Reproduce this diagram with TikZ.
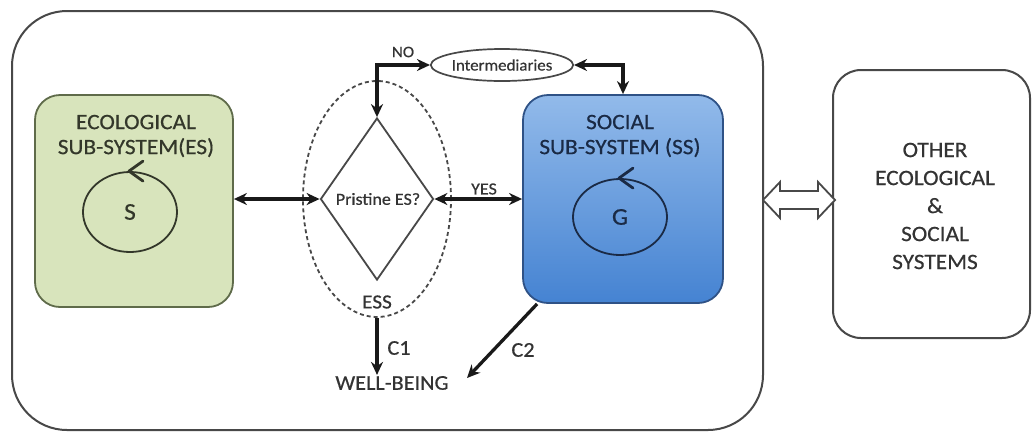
\documentclass[tikz,border=0pt]{standalone}
\usepackage{fontspec}
\setmainfont{Carlito}[FakeStretch=1.06,FakeBold=0.5]
\usetikzlibrary{shapes.geometric,arrows.meta,calc}
\definecolor{esgreen}{HTML}{D8E4BC}
\definecolor{esborder}{HTML}{5F6B4A}
\definecolor{sstop}{HTML}{92BAEA}
\definecolor{ssbot}{HTML}{4583D2}
\definecolor{ssborder}{HTML}{2F5286}
\definecolor{linegray}{HTML}{484848}
\definecolor{txtgray}{HTML}{333333}
\definecolor{estxt}{HTML}{33372A}
\definecolor{sstxt}{HTML}{1A2A45}
\tikzset{
  outerbox/.style={draw=linegray, line width=2pt, rounded corners=55pt, minimum width=751pt, minimum height=419pt, inner sep=0pt},
  esbox/.style={draw=esborder, fill=esgreen, line width=1.8pt, rounded corners=25pt, minimum width=198pt, minimum height=212pt, inner sep=0pt},
  ssbox/.style={draw=ssborder, top color=sstop, bottom color=ssbot, line width=1.8pt, rounded corners=25pt, minimum width=200pt, minimum height=208pt, inner sep=0pt},
  otherbox/.style={draw=linegray, line width=2pt, rounded corners=28pt, minimum width=197pt, minimum height=268pt, inner sep=0pt},
  loopcirc/.style={ellipse, draw, line width=1.8pt, minimum width=94pt, inner sep=0pt},
  loophead/.style={line width=2.8pt, line cap=round, line join=round},
  biarrow/.style={line width=3.3pt, draw=black!90, {Stealth[length=13pt,width=12pt]}-{Stealth[length=13pt,width=12pt]}},
  onearrow/.style={line width=3.3pt, draw=black!90, -{Stealth[length=13pt,width=12pt]}},
  big/.style={font=\fontsize{22}{25}\selectfont, align=center, inner sep=0pt},
  lbl/.style={inner sep=1pt, text=txtgray},
  hollow/.style={draw=linegray, fill=white, line width=1.8pt, line join=miter}
}
\begin{document}
\begin{tikzpicture}[x=1pt,y=-1pt]
\useasboundingbox (0,0) rectangle (1032,432);
\fill[white] (0,0) rectangle (1032,432);

% outer container
\node[outerbox] (outer) at (387.5,220.5) {};

% ecological sub-system
\node[esbox] (es) at (134,201) {};
\node[big, text=estxt] (estext) at (136,136) {ECOLOGICAL\\SUB-SYSTEM(ES)};
\node[loopcirc, draw=estxt, minimum height=80pt, text=estxt, font=\fontsize{24}{24}\selectfont] (scirc) at (130,212) {S};
\draw[loophead, draw=estxt] ([shift={(13pt,10pt)}]scirc.north) -- ([xshift=-1pt]scirc.north) -- ([shift={(13pt,-10pt)}]scirc.north);

% social sub-system
\node[ssbox] (ss) at (623,199) {};
\node[big, text=sstxt] (sstext) at (620,136) {SOCIAL\\SUB-SYSTEM (SS)};
\node[loopcirc, draw=sstxt, minimum height=76pt, text=sstxt, font=\fontsize{24}{24}\selectfont] (gcirc) at (620,217) {G};
\draw[loophead, draw=sstxt] ([shift={(13pt,10pt)}]gcirc.north) -- ([xshift=-1pt]gcirc.north) -- ([shift={(13pt,-10pt)}]gcirc.north);

% other systems
\node[otherbox] (other) at (931.5,204) {};
\node[big, text=txtgray, font=\fontsize{22}{28}\selectfont] (othertext) at (935,206) {OTHER\\ECOLOGICAL\\\&\\SOCIAL\\SYSTEMS};

% hollow double arrow between outer box and other systems
\draw[hollow] (763,200) -- (780,182) -- (780,191) -- (818,191) -- (818,182) -- (835,200)
  -- (818,218) -- (818,209) -- (780,209) -- (780,218) -- cycle;

% ESS dashed ellipse and decision diamond
\node[ellipse, draw=linegray, dash pattern=on 4pt off 3pt, line width=1.8pt, minimum width=148pt, minimum height=236pt, inner sep=0pt] (ell) at (377,199) {};
\node[diamond, draw=linegray, line width=1.8pt, minimum width=113pt, minimum height=162pt, inner sep=0pt] (dia) at (377,199) {};
\node[lbl, font=\fontsize{17}{17}\selectfont] (dtext) at (378,199) {Pristine ES?};
\node[lbl, font=\fontsize{20}{20}\selectfont] (ess) at (377,302) {ESS};

% intermediaries
\node[ellipse, draw=linegray, line width=1.7pt, minimum width=124pt, minimum height=32pt, inner sep=0pt, text=txtgray, font=\fontsize{16}{16}\selectfont] (inter) at (502,65) {Intermediaries};

% well-being
\node[lbl, font=\fontsize{21}{21}\selectfont] (wb) at (392,383) {WELL-BEING};

% connectors
\draw[biarrow] (es.east |- dia.west) -- (dia.west);
\draw[biarrow] (dia.east) -- (dia.east -| ss.west);
\draw[biarrow] (inter.west) -| (dia.north);
\draw[biarrow] (inter.east) -| (ss.north);
\draw[onearrow] (ell.south) -- (ell.south |- wb.north);
\coordinate (c2end) at (467,378);
\draw[onearrow] ([xshift=15pt]ss.south west) -- (c2end);

% connector labels
\node[lbl, font=\fontsize{16}{16}\selectfont] (nolbl) at (403,52) {NO};
\node[lbl, font=\fontsize{17}{17}\selectfont] (yeslbl) at (484,189) {YES};
\node[lbl, font=\fontsize{21}{21}\selectfont] (c1lbl) at (399,348) {C1};
\node[lbl, font=\fontsize{21}{21}\selectfont] (c2lbl) at (523,350) {C2};
\end{tikzpicture}
\end{document}
